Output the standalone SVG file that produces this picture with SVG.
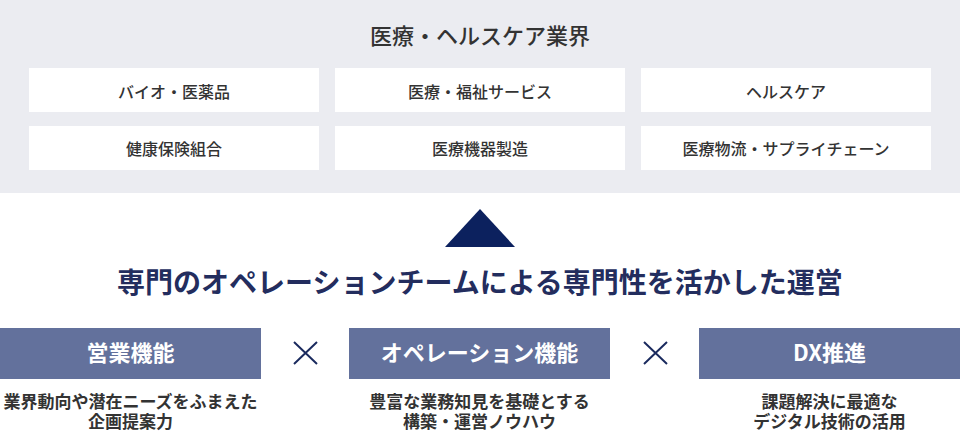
<svg xmlns="http://www.w3.org/2000/svg" width="960" height="432" viewBox="0 0 960 432">
<style>
text{font-family:"Noto Sans CJK JP","Noto Sans",sans-serif;text-anchor:middle}
.ind{fill:#fff}
.indt{font-size:16px;font-weight:500;fill:#333}
.fn{fill:#63719c}
.fnt{font-size:22px;font-weight:700;fill:#fff}
.desc{font-size:17px;font-weight:700;fill:#333}
.x{stroke:#1a2a5e;stroke-width:2;fill:none}
</style>
<rect x="0" y="0" width="960" height="193" fill="#ebecf1"/>
<text x="480" y="44" font-size="22" font-weight="500" fill="#333">医療・ヘルスケア業界</text>
<g id="ind1"><rect class="ind" x="29" y="68" width="290" height="44"/><text class="indt" x="174" y="98">バイオ・医薬品</text></g>
<g id="ind2"><rect class="ind" x="335" y="68" width="290" height="44"/><text class="indt" x="480" y="98">医療・福祉サービス</text></g>
<g id="ind3"><rect class="ind" x="641" y="68" width="290" height="44"/><text class="indt" x="786" y="98">ヘルスケア</text></g>
<g id="ind4"><rect class="ind" x="29" y="126" width="290" height="44"/><text class="indt" x="174" y="155">健康保険組合</text></g>
<g id="ind5"><rect class="ind" x="335" y="126" width="290" height="44"/><text class="indt" x="480" y="155">医療機器製造</text></g>
<g id="ind6"><rect class="ind" x="641" y="126" width="290" height="44"/><text class="indt" x="786" y="155">医療物流・サプライチェーン</text></g>
<g id="connectors">
<polygon points="445,247 480,209 515,247" fill="#0c215e"/>
<path class="x" d="M294,342 L317,364 M317,342 L294,364"/>
<path class="x" d="M644,342 L667,364 M667,342 L644,364"/>
</g>
<text id="heading" x="480" y="293" font-size="28" font-weight="700" fill="#232d5e">専門のオペレーションチームによる専門性を活かした運営</text>
<g id="fn1"><rect class="fn" x="0" y="328" width="261" height="51"/><text class="fnt" x="130.5" y="361">営業機能</text>
<text class="desc" x="130.5" y="408">業界動向や潜在ニーズをふまえた</text><text class="desc" x="130.5" y="428">企画提案力</text></g>
<g id="fn2"><rect class="fn" x="349" y="328" width="261" height="51"/><text class="fnt" x="479.5" y="361">オペレーション機能</text>
<text class="desc" x="479.5" y="408">豊富な業務知見を基礎とする</text><text class="desc" x="479.5" y="428">構築・運営ノウハウ</text></g>
<g id="fn3"><rect class="fn" x="699" y="328" width="261" height="51"/><text class="fnt" x="829.5" y="361">DX推進</text>
<text class="desc" x="829.5" y="408">課題解決に最適な</text><text class="desc" x="829.5" y="428">デジタル技術の活用</text></g>
</svg>
